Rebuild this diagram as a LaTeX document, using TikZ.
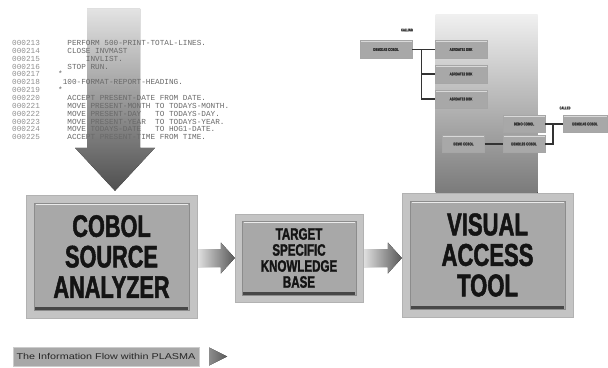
\documentclass[tikz,border=0pt]{standalone}
\usepackage{fontspec}
\usepackage{xcolor}
\usepackage{tikz}
\usetikzlibrary{calc}
\setmainfont{Liberation Sans}
\newfontfamily\blockfont[FakeStretch=0.70,FakeBold=1.6]{Liberation Sans}
\newfontfamily\codefont{Liberation Mono}
\newfontfamily\legendfont[FakeStretch=1.27]{Liberation Sans}
\definecolor{framegray}{RGB}{196,196,196}
\definecolor{panelgray}{RGB}{168,168,168}
\definecolor{codegray}{RGB}{105,105,105}
\definecolor{numgray}{RGB}{145,145,145}
\definecolor{arrowlight}{RGB}{222,222,222}
\definecolor{arrowdark}{RGB}{88,88,88}

\tikzset{
  bevelbox/.style={draw=black!30, fill=framegray, inner sep=0pt, text=black!92, align=center,
    path picture={
      \fill[panelgray, draw=black!45]
        ([shift={(#1,-#1)}]path picture bounding box.north west) rectangle
        ([shift={(-#1,#1)}]path picture bounding box.south east);
      \draw[white!92!black, line width=1.6pt]
        ([shift={(#1+1.5pt,-#1-1.5pt)}]path picture bounding box.north west) --
        ([shift={(-#1-1.5pt,-#1-1.5pt)}]path picture bounding box.north east);
      \draw[black!72, line width=3pt]
        ([shift={(#1+1pt,#1+2pt)}]path picture bounding box.south west) --
        ([shift={(-#1-1pt,#1+2pt)}]path picture bounding box.south east);
    }},
  smallbox/.style={draw=black!35, fill=panelgray, inner sep=0pt, minimum width=52pt, minimum height=18pt,
    font=\blockfont\bfseries\fontsize{4.2}{5}\selectfont, text=black!80,
    path picture={
      \draw[white!85!black, line width=1pt]
        ([yshift=-1pt]path picture bounding box.north west) -- ([yshift=-1pt]path picture bounding box.north east);
    }},
  minibox/.style={smallbox, minimum width=42pt, minimum height=17pt},
  callline/.style={draw=black!80, line width=1.4pt},
  tag/.style={font=\blockfont\bfseries\fontsize{3.8}{4}\selectfont, text=black!80, inner sep=0pt},
  flowarrow/.style={left color=arrowlight, right color=arrowdark},
}

\begin{document}
\begin{tikzpicture}[x=1pt,y=-1pt]
        \fill[white] (0,0) rectangle (608,367);
        \useasboundingbox (0,0) rectangle (608,367);

        % the three stages
        \node[bevelbox=8pt, minimum width=171pt, minimum height=123pt,
              font=\blockfont\bfseries\fontsize{31}{30.5}\selectfont] (cobol) at (111.5,256.5) {COBOL\\SOURCE\\ANALYZER};
        \node[bevelbox=7pt, minimum width=128pt, minimum height=88pt,
              font=\blockfont\bfseries\fontsize{16.5}{16}\selectfont] (target) at (299,258) {TARGET\\SPECIFIC\\KNOWLEDGE\\BASE};
        \node[bevelbox=8pt, minimum width=171pt, minimum height=124pt,
              font=\blockfont\bfseries\fontsize{31.5}{30.5}\selectfont] (vat) at (487.5,255) {VISUAL\\ACCESS\\TOOL};

        % source code going in
        \coordinate (srctip) at ($(cobol.north)+(3.5,-4)$);
        \fill[top color=arrowlight!85!white, bottom color=arrowdark!90!black]
            ($(srctip)+(-28,-182)$) -- ++(53,0) -- ++(0,139) -- ++(15,0) -- (srctip)
            -- ($(srctip)+(-40,-43)$) -- ++(12,0) -- cycle;

        \foreach \n in {213,...,225}
            \node[anchor=base west, inner sep=0pt, text=numgray, font=\codefont\fontsize{7.7}{8}\selectfont]
                (num\n) at (12,{45.5+7.85*(\n-213)}) {000\n};
        \foreach \code [count=\i from 0] in {
            ~~PERFORM 500-PRINT-TOTAL-LINES.,
            ~~CLOSE INVMAST,
            ~~~~~~INVLIST.,
            ~~STOP RUN.,
            *,
            ~100-FORMAT-REPORT-HEADING.,
            *,
            ~~ACCEPT PRESENT-DATE FROM DATE.,
            ~~MOVE PRESENT-MONTH TO TODAYS-MONTH.,
            ~~MOVE PRESENT-DAY~~~TO TODAYS-DAY.,
            ~~MOVE PRESENT-YEAR~~TO TODAYS-YEAR.,
            ~~MOVE TODAYS-DATE~~~TO HOG1-DATE.,
            ~~ACCEPT PRESENT-TIME FROM TIME.}
            \node[anchor=base west, inner sep=0pt, text=codegray, font=\codefont\fontsize{7.7}{8}\selectfont]
                (line\i) at (58,{45.5+7.85*\i}) {\code};

        % flow arrows
        \fill[flowarrow] ($(cobol.east |- target.west)+(1,-9)$) -- ($(target.west)+(-14,-9)$) -- ++(0,-6.5)
            -- (target.west) -- ++(-14,15.5) -- ++(0,-6.5) -- ($(cobol.east |- target.west)+(1,9)$) -- cycle;
        \fill[flowarrow] ($(target.east)+(1,-9)$) -- ($(target.east -| vat.west)+(-14,-9)$) -- ++(0,-6.5)
            -- (target.east -| vat.west) -- ++(-14,15.5) -- ++(0,-6.5) -- ($(target.east)+(1,9)$) -- cycle;

        % call graph screen above the tool
        \fill[top color=black!6, bottom color=black!52] ($(vat.north)+(-52,-178)$) rectangle ($(vat.north)+(50,0)$);

        \node[smallbox] (calling) at (386,49.5) {DEMO14S COBOL};
        \node[smallbox] (asr1) at (461,49.5) {ASRDATE1 DBK};
        \node[smallbox] (asr2) at (461,74) {ASRDATE2 DBK};
        \node[smallbox] (asr3) at (461,99) {ASRDATE3 DBK};
        \node[tag] (callingtag) at (407,30) {CALLING};
        \coordinate (callsplit) at ($(calling.east)+(9,0)$);
        \draw[callline] (calling.east) -- (asr1.west);
        \draw[callline] (callsplit) |- (asr2.west);
        \draw[callline] (callsplit) |- (asr3.west);

        \node[minibox] (demoA) at (524,124) {DEMO COBOL};
        \node[minibox, minimum width=44pt] (called) at (585,124) {DEMO14S COBOL};
        \node[minibox] (demoB) at (463.5,144) {DEMO COBOL};
        \node[minibox] (demo12) at (524,144) {DEMO12S COBOL};
        \node[tag] (calledtag) at (565,108) {CALLED};
        \coordinate (calledjoin) at ($(demoA.east)!0.45!(called.west)$);
        \draw[callline] (demoA.east) -- (called.west);
        \draw[callline] (demoB.east) -- (demo12.west);
        \draw[callline] (calledjoin) |- (demo12.east);

        % legend
        \node[draw=black!20, fill=panelgray, minimum width=186pt, minimum height=19pt, inner sep=0pt,
              font=\legendfont\fontsize{8.5}{9}\selectfont, text=black!85] (legend) at (106,356.5) {The Information Flow within PLASMA};
        \fill[left color=black!45, right color=black!65] ($(legend.east)+(10,-9)$) -- ($(legend.east)+(28,0)$) -- ($(legend.east)+(10,9)$) -- cycle;
    \end{tikzpicture}
\end{document}
